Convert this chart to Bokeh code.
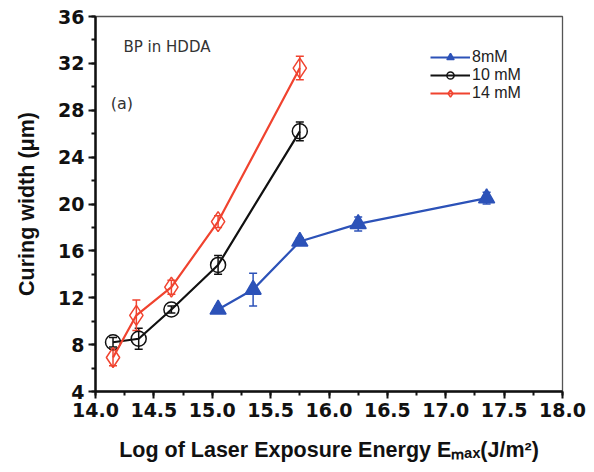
from bokeh.plotting import figure
from bokeh.models import (ColumnDataSource, Whisker, TeeHead, FixedTicker, PrintfTickFormatter,
                          Range1d, Label, Legend, LegendItem)
from bokeh.embed import file_html
from bokeh.resources import INLINE

# data
x8 = [15.05, 15.35, 15.75, 16.25, 17.35]
y8 = [11.0, 12.7, 16.8, 18.3, 20.5]
e8 = [0.3, 1.4, 0.3, 0.6, 0.5]

x10 = [14.15, 14.37, 14.65, 15.05, 15.75]
y10 = [8.2, 8.5, 11.0, 14.8, 26.2]
e10 = [0.4, 0.9, 0.3, 0.8, 0.8]

x14 = [14.15, 14.35, 14.65, 15.05, 15.75]
y14 = [6.9, 10.5, 12.9, 18.5, 31.6]
e14 = [0.7, 1.3, 0.6, 0.5, 1.0]

series_labels = ["8mM", "10 mM", "14 mM"]
x_ticks = [14.0, 14.5, 15.0, 15.5, 16.0, 16.5, 17.0, 17.5, 18.0]
y_ticks = [4, 8, 12, 16, 20, 24, 28, 32, 36]
x_title = "Log of Laser Exposure Energy E\u2098\u2090\u2093(J/m\u00b2)"
y_title = "Curing width (\u03bcm)"

BLUE = "#2c52b8"
BLACK = "#111111"
RED = "#f0432f"
FONT = "Liberation Sans"
BFONT = "DejaVu Sans"

p = figure(width=594, height=472, output_backend="svg", toolbar_location=None,
           x_range=Range1d(14.0, 18.0), y_range=Range1d(4, 36),
           min_border_left=95, min_border_right=32, min_border_top=16, min_border_bottom=81)
p.background_fill_color = "white"
p.border_fill_color = "white"
p.grid.visible = False
p.outline_line_color = "#555555"
p.outline_line_width = 1.3

# axes
for ax in (p.xaxis[0], p.yaxis[0]):
    ax.axis_line_width = 2.5
    ax.axis_line_color = "#111111"
    ax.major_tick_line_width = 2
    ax.minor_tick_line_width = 2
    ax.major_tick_line_color = "#111111"
    ax.minor_tick_line_color = "#111111"
    ax.major_tick_out = 7
    ax.major_tick_in = 0
    ax.minor_tick_out = 4
    ax.minor_tick_in = 0
    ax.major_label_text_font = BFONT
    ax.major_label_text_font_style = "bold"
    ax.major_label_text_font_size = "19px"
    ax.major_label_text_color = "#111111"
    ax.axis_label_text_font = FONT
    ax.axis_label_text_font_style = "bold"
    ax.axis_label_text_font_size = "21.5px"
    ax.axis_label_text_color = "#111111"

p.xaxis[0].ticker = FixedTicker(ticks=x_ticks,
                                minor_ticks=[14 + 0.25 * i for i in range(17)])
p.xaxis[0].formatter = PrintfTickFormatter(format="%.1f")
p.yaxis[0].ticker = FixedTicker(ticks=y_ticks, minor_ticks=list(range(4, 37, 2)))
p.yaxis[0].formatter = PrintfTickFormatter(format="%d")
p.xaxis[0].major_label_standoff = 4
p.yaxis[0].major_label_standoff = 4
p.xaxis[0].axis_label = x_title
p.xaxis[0].axis_label_standoff = 18
p.yaxis[0].axis_label = y_title
p.yaxis[0].axis_label_standoff = 16

items = []
specs = [
    (x8, y8, e8, BLUE, "triangle", series_labels[0], 16, BLUE),
    (x10, y10, e10, BLACK, "circle", series_labels[1], 15, None),
    (x14, y14, e14, RED, "diamond", series_labels[2], 20, None),
]
for xs, ys, es, col, mk, lab, sz, fill in specs:
    src = ColumnDataSource(dict(x=xs, y=ys,
                                lo=[a - b for a, b in zip(ys, es)],
                                hi=[a + b for a, b in zip(ys, es)]))
    w = Whisker(source=src, base="x", upper="hi", lower="lo", line_color=col, line_width=1.5,
                upper_head=TeeHead(size=8, line_color=col, line_width=1.5),
                lower_head=TeeHead(size=8, line_color=col, line_width=1.5))
    p.add_layout(w)
    r1 = p.line("x", "y", source=src, line_color=col, line_width=2.2)
    if fill:
        r2 = p.scatter("x", "y", source=src, marker=mk, size=sz, line_color=col,
                       fill_color=fill, line_width=1.5)
    else:
        r2 = p.scatter("x", "y", source=src, marker=mk, size=sz, line_color=col,
                       fill_color=None, line_width=1.5)
    items.append(LegendItem(label=lab, renderers=[r1, r2]))

legend = Legend(items=items, location=(335, 289), background_fill_alpha=0,
                border_line_color=None, label_text_font=FONT, label_text_font_size="16px",
                label_text_color="#222222", glyph_width=40, glyph_height=18, label_height=18,
                label_standoff=2, spacing=0, padding=0, margin=0)
p.add_layout(legend, "center")

p.add_layout(Label(x=14.24, y=33.4, text="BP in HDDA", text_font=BFONT, text_font_size="15px",
                   text_color="#333333", text_baseline="middle"))
p.add_layout(Label(x=14.13, y=28.6, text="(a)", text_font=BFONT, text_font_size="16px",
                   text_color="#333333", text_baseline="middle"))

open("out.html", "w").write(file_html(p, INLINE))
